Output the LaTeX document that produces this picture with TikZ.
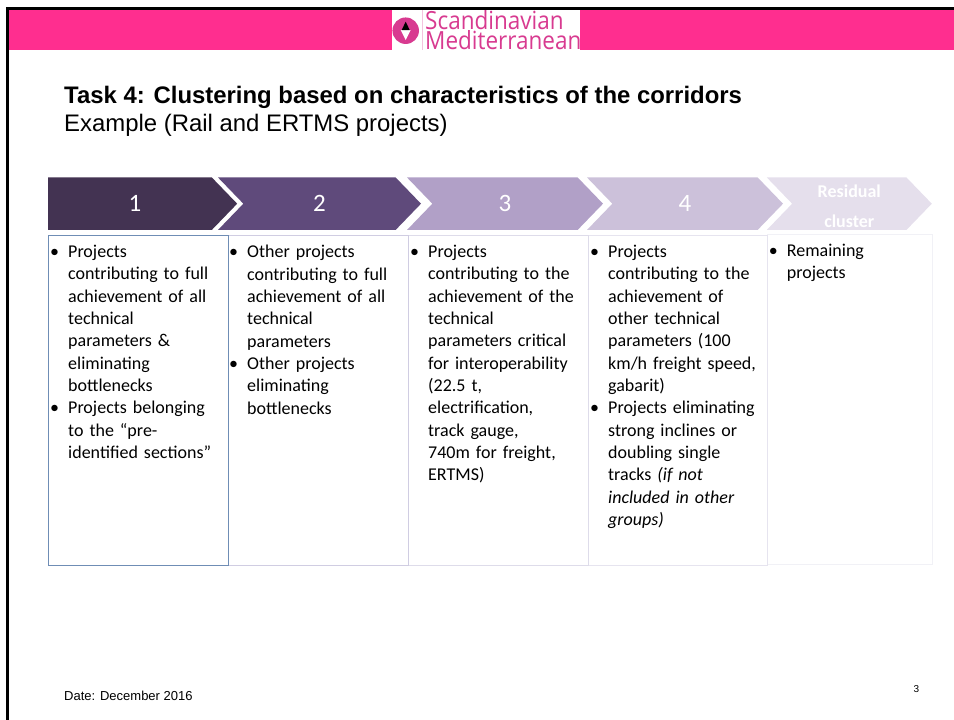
\documentclass[tikz,border=0pt]{standalone}
\usepackage{fontspec}
\usepackage{tikz}
\usetikzlibrary{shapes.symbols}
\setmainfont{Carlito}
\newfontfamily\arialfont{Liberation Sans}
\newfontfamily\logofont[FakeStretch=0.9]{Open Sans}
\newcommand{\bul}{\leavevmode\llap{\textbullet\hspace{9pt}}}
\definecolor{bandpink}{HTML}{FF2E8F}
\definecolor{logopink}{HTML}{D83A90}
\definecolor{c1}{HTML}{433352}
\definecolor{c2}{HTML}{5F4A7B}
\definecolor{c3}{HTML}{B1A0C7}
\definecolor{c4}{HTML}{CCC1DA}
\definecolor{c5}{HTML}{E5DFEC}
\definecolor{box1}{HTML}{6F8DB5}
\definecolor{box2}{HTML}{D0CDE2}
\definecolor{box3}{HTML}{DEDCEA}
\definecolor{box4}{HTML}{E6E4EF}
\definecolor{box5}{HTML}{F1F1F6}

\begin{document}
\begin{tikzpicture}[x=1pt, y=-1pt,
		chevron_style/.style={signal, signal to=east, signal from=west, signal pointer angle=92, inner sep=0pt, minimum height=52.5pt, text=white, font=\fontsize{25}{28}\selectfont},
		column_style/.style={anchor=north west, draw, minimum height=329.5pt, inner sep=0pt},
		list_style/.style={anchor=north west, align=left, inner sep=0pt, text width=160pt, font=\fontsize{18}{22.33}\selectfont},
		logo_style/.style={anchor=north west, align=left, inner sep=0pt, text=logopink, font=\logofont\fontsize{25}{20.5}\selectfont},
		title_style/.style={anchor=base west, inner sep=0pt, font=\arialfont\fontsize{23.9}{26}\selectfont},
		foot_style/.style={anchor=base west, inner sep=0pt, font=\arialfont\fontsize{13}{15}\selectfont}]
		\useasboundingbox (0,0) rectangle (954,720);
		\fill[bandpink] (9,10) rectangle (954,50);
		\fill[black] (6,7) rectangle (954,10);
		\fill[black] (6,7) rectangle (9,720);

		\fill[white] (392,10) rectangle (580,50);
		\draw[logopink!30] (421.7,10) -- (421.7,50);
		\node[circle, fill=logopink, minimum size=26.5pt, inner sep=0pt] (logo_mark) at (405.7,30.7) {};
		\fill[white] (400.7,30) -- (410.7,30) -- (405.7,40) -- cycle;
		\fill[black] (401.7,30) -- (409.7,30) -- (405.7,21.7) -- cycle;
		\node[logo_style] (logo_text) at (425,10) {Scandinavian\\Mediterranean};

		\node[title_style] (title) at (64,103.5) {\bfseries Task 4: Clustering based on characteristics of the corridors};
		\node[title_style] (subtitle) at (64,131) {Example (Rail and ERTMS projects)};

		\node[chevron_style, signal from=nowhere, fill=c1, minimum width=189pt] (c1) at (130,203.7) {\hspace{10pt}1};
		\node[chevron_style, fill=c2, minimum width=203pt] (c2) at (319.5,203.7) {2};
		\node[chevron_style, fill=c3, minimum width=196pt] (c3) at (505,203.7) {3};
		\node[chevron_style, fill=c4, minimum width=196pt] (c4) at (685,203.7) {4};
		\node[chevron_style, fill=c5, minimum width=165pt, align=center, font=\bfseries\fontsize{18}{30}\selectfont] (c5) at (849.3,203.7) {\rule{0pt}{17pt}Residual\\cluster};

		\node[column_style, draw=box5, minimum width=165.3pt] (b5) at (766.7,234) {};
		\node[column_style, draw=box4, minimum width=179.2pt] (b4) at (587.5,235) {};
		\node[column_style, draw=box3, minimum width=179.5pt] (b3) at (408,235) {};
		\node[column_style, draw=box2, minimum width=180.5pt] (b2) at (227.5,235) {};
		\node[column_style, draw=box1, minimum width=179.5pt] (b1) at (48,235) {};

		\node[list_style] (t1) at (68,245) {\bul Projects\\contributing to full\\achievement of all\\technical\\parameters \&\\eliminating\\bottlenecks\\\bul Projects belonging\\to the “pre-\\identified sections”};
		\node[list_style] (t2) at (247,245) {\bul Other projects\\contributing to full\\achievement of all\\technical\\parameters\\\bul Other projects\\eliminating\\bottlenecks};
		\node[list_style] (t3) at (428,245) {\bul Projects\\contributing to the\\achievement of the\\technical\\parameters critical\\for interoperability\\(22.5 t,\\electrification,\\track gauge,\\740m for freight,\\ERTMS)};
		\node[list_style] (t4) at (608,245) {\bul Projects\\contributing to the\\achievement of\\other technical\\parameters (100\\km/h freight speed,\\gabarit)\\\bul Projects eliminating\\strong inclines or\\doubling single\\tracks \textit{(if not}\\\textit{included in other}\\\textit{groups)}};
		\node[list_style] (t5) at (786.7,244) {\bul Remaining\\projects};

		\node[foot_style] (date) at (64,700) {Date: December 2016};
		\node[foot_style, font=\arialfont\fontsize{10}{12}\selectfont] (page) at (913.5,692.5) {3};
		\end{tikzpicture}
\end{document}
